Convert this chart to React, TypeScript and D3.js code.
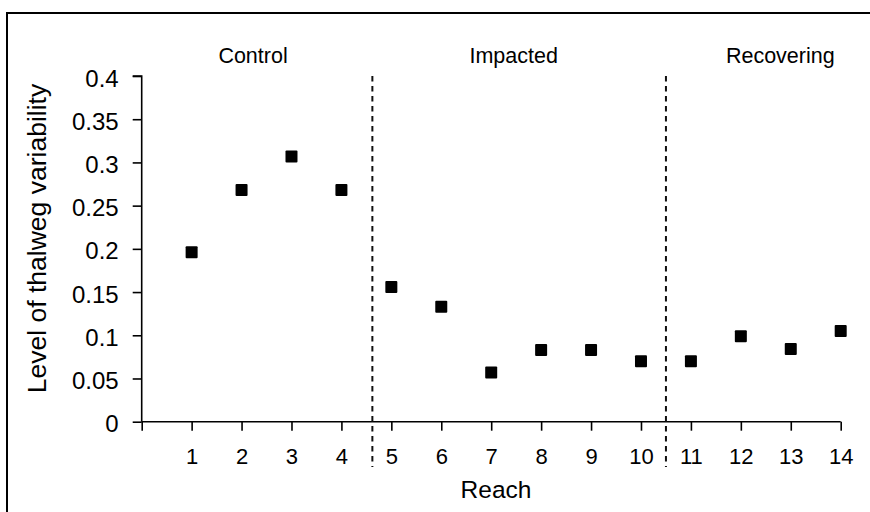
import React, { useEffect, useRef } from "react";
import * as d3 from "d3";

const reaches = [1, 2, 3, 4, 5, 6, 7, 8, 9, 10, 11, 12, 13, 14];
const variability = [0.196, 0.268, 0.307, 0.268, 0.156, 0.133, 0.057, 0.083, 0.083, 0.07, 0.07, 0.099, 0.084, 0.105];
const yTicks = [0, 0.05, 0.1, 0.15, 0.2, 0.25, 0.3, 0.35, 0.4];
const xTicks = [0, 1, 2, 3, 4, 5, 6, 7, 8, 9, 10, 11, 12, 13, 14];
const groupNames = ["Control", "Impacted", "Recovering"];
const groupCenters = [2.23, 7.45, 12.79];
const dividers = [4.62, 10.5];

const FONT = "'Liberation Sans', Arial, Helvetica, sans-serif";

const App = () => {
    const d3Container = useRef(null);

    useEffect(() => {
        if (!d3Container.current) return;
        const svg = d3.select(d3Container.current);
        svg.selectAll("*").remove();

        // outer frame (cropped at right/bottom like the original)
        svg.append("rect")
            .attr("x", 7)
            .attr("y", 13)
            .attr("width", 880)
            .attr("height", 520)
            .attr("fill", "none")
            .attr("stroke", "#000")
            .attr("stroke-width", 2);

        const x = d3.scaleLinear().domain([0, 14]).range([141.7, 840.7]);
        const y = d3.scaleLinear().domain([0, 0.4]).range([421.7, 76]);

        // y axis
        const yAxis = d3.axisLeft(y)
            .tickValues(yTicks)
            .tickSize(9)
            .tickPadding(14)
            .tickFormat(d => d3.format("~g")(d));

        const yg = svg.append("g")
            .attr("transform", `translate(${x(0)},0)`)
            .call(yAxis);
        yg.select(".domain").attr("stroke", "#000").attr("stroke-width", 1.6)
            .attr("d", `M-9,${y(0.4)}H0V${y(0)}`);
        yg.selectAll(".tick line").attr("stroke", "#000").attr("stroke-width", 1.6);
        yg.selectAll(".tick text")
            .attr("dy", "0.42em")
            .attr("font-size", 24)
            .attr("font-family", FONT)
            .attr("fill", "#000");

        // x axis
        const xAxis = d3.axisBottom(x)
            .tickValues(xTicks)
            .tickSize(9)
            .tickPadding(18)
            .tickFormat(d => (d === 0 ? "" : String(d)));

        const xg = svg.append("g")
            .attr("transform", `translate(0,${y(0)})`)
            .call(xAxis);
        xg.select(".domain").attr("stroke", "#000").attr("stroke-width", 1.6)
            .attr("d", `M${x(0)},0H${x(14)}`);
        xg.selectAll(".tick line").attr("stroke", "#000").attr("stroke-width", 1.6);
        xg.selectAll(".tick text")
            .attr("font-size", 22)
            .attr("font-family", FONT)
            .attr("fill", "#000");

        // dashed group dividers
        svg.selectAll(".divider")
            .data(dividers)
            .enter().append("line")
            .attr("class", "divider")
            .attr("x1", d => x(d))
            .attr("x2", d => x(d))
            .attr("y1", y(0.4))
            .attr("y2", 467)
            .attr("stroke", "#111")
            .attr("stroke-width", 2)
            .attr("stroke-dasharray", "5.5,4.5");

        // group labels
        svg.selectAll(".group")
            .data(groupNames)
            .enter().append("text")
            .attr("class", "group")
            .attr("x", (d, i) => x(groupCenters[i]))
            .attr("y", 63)
            .attr("text-anchor", "middle")
            .style("font-family", FONT)
            .style("font-size", "21.5px")
            .text(d => d);

        // points
        const size = 12;
        svg.selectAll(".pt")
            .data(reaches.map((r, i) => ({ r, v: variability[i] })))
            .enter().append("rect")
            .attr("class", "pt")
            .attr("x", d => x(d.r) - size / 2)
            .attr("y", d => y(d.v) - size / 2)
            .attr("width", size)
            .attr("height", size)
            .attr("rx", 1)
            .attr("fill", "#000");

        // axis titles
        svg.append("text")
            .attr("x", 496)
            .attr("y", 498)
            .attr("text-anchor", "middle")
            .style("font-family", FONT)
            .style("font-size", "24.5px")
            .text("Reach");

        svg.append("text")
            .attr("transform", `translate(46,238.5) rotate(-90)`)
            .attr("text-anchor", "middle")
            .style("font-family", FONT)
            .style("font-size", "26.5px")
            .text("Level of thalweg variability");
    }, []);

    return (
        <svg
            ref={d3Container}
            width={870}
            height={512}
            style={{ position: "absolute", left: 0, top: 0, background: "#fff" }}
        />
    );
};

export default App;
